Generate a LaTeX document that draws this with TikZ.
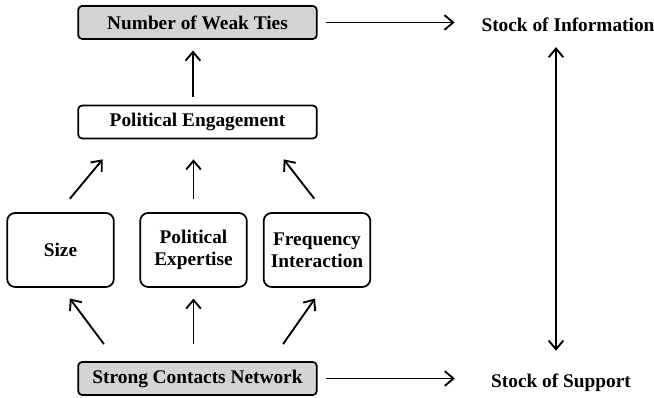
\documentclass[tikz,border=0pt]{standalone}
\usepackage{fontspec}
\setmainfont{Liberation Serif}
\usepackage{tikz}
\usetikzlibrary{arrows.meta}

\tikzset{
  lbl/.style={font=\fontsize{14.5}{16.5}\selectfont\bfseries, align=center, inner sep=0pt},
  widebox/.style={lbl, draw, line width=1.3pt, rounded corners=3pt, minimum width=179pt, minimum height=24.75pt},
  smallbox/.style={lbl, draw, line width=1.3pt, rounded corners=6pt, minimum width=80pt, minimum height=55.5pt},
  arr/.style={line width=1.4pt, -{Straight Barb[length=6.5pt,width=11pt]}},
}

\begin{document}
\begin{tikzpicture}[x=0.75pt, y=-0.75pt]
  \useasboundingbox (0,0) rectangle (654,398);

  % Top and bottom boxes
  \node[widebox, fill=black!17] (ties) at (197.5,22.5) {Number of Weak Ties};
  \node[widebox] (engage) at (197.5,122) {Political Engagement};
  \node[widebox, fill=black!17] (strong) at (197.5,378.5) {Strong Contacts Network};

  % Middle row
  \node[smallbox] (size) at (60.5,250) {Size};
  \node[smallbox] (expert) at (193.5,250) {Political\\Expertise};
  \node[smallbox] (freq) at (317,250) {Frequency\\Interaction};

  % Stocks on the right
  \node[lbl] (info) at (568,25) {Stock of Information};
  \node[lbl] (support) at (561,382.5) {Stock of Support};

  % Up to engagement
  \draw[arr] ([xshift=7pt,yshift=10pt]size.north) -- ([xshift=19pt,yshift=-15pt]engage.south west);
  \draw[arr, shorten <=10pt, shorten >=15pt] (expert.north) -- (expert.north |- engage.south);
  \draw[arr] ([xshift=-2pt,yshift=10pt]freq.north) -- ([xshift=-25.5pt,yshift=-15pt]engage.south east);
  \draw[arr, shorten <=6pt, shorten >=8pt] ([xshift=-3.4pt]engage.north) -- ([xshift=-3.4pt]ties.south);

  % Up from the network
  \draw[arr] ([xshift=20pt,yshift=12.75pt]strong.north west) -- ([xshift=7pt,yshift=-8pt]size.south);
  \draw[arr, shorten <=12.75pt, shorten >=8pt] (expert.south |- strong.north) -- (expert.south);
  \draw[arr] ([xshift=-26pt,yshift=12.75pt]strong.north east) -- ([xshift=-1.5pt,yshift=-8pt]freq.south);

  % Right hand side
  \draw[arr, shorten <=6pt, shorten >=20pt] (ties.east) -- (ties.east -| info.west);
  \draw[arr, shorten <=6pt, shorten >=27pt] (strong.east) -- (strong.east -| support.west);
  \draw[arr, {Straight Barb[length=6.5pt,width=11pt]}-{Straight Barb[length=6.5pt,width=11pt]}]
    ([xshift=-9pt,yshift=-11.25pt]info.south) -- ([xshift=-3.75pt,yshift=17pt]support.north);
\end{tikzpicture}
\end{document}
